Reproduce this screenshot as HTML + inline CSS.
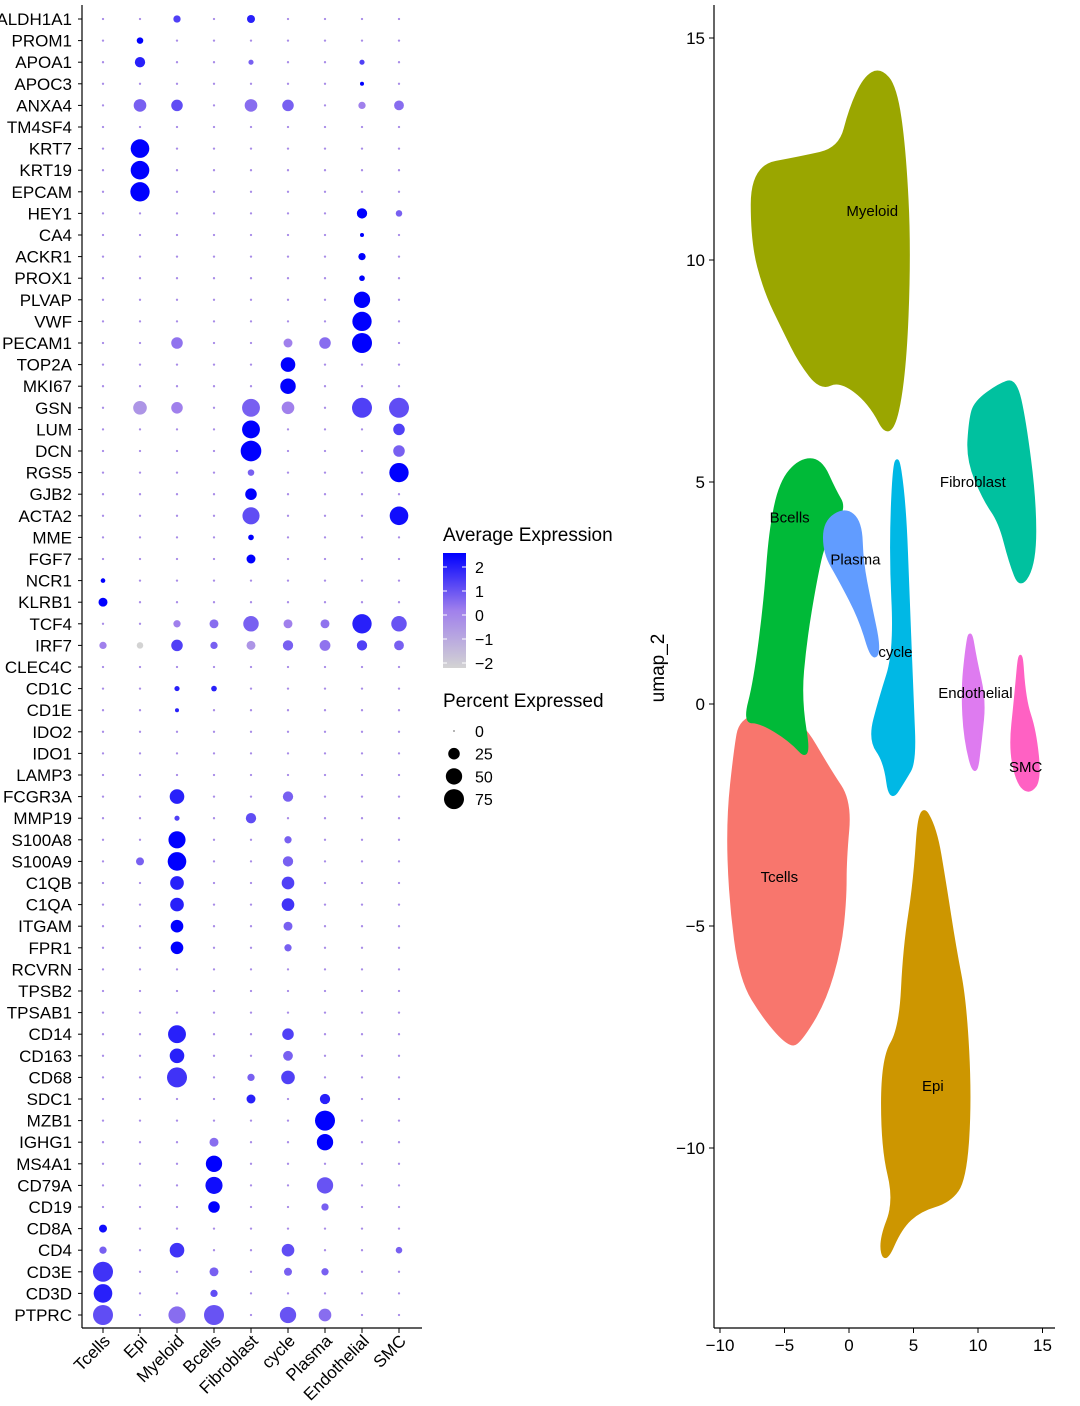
<!DOCTYPE html>
<html><head><meta charset="utf-8">
<style>
html,body{margin:0;padding:0;background:#fff;}
svg{display:block;font-family:"Liberation Sans",sans-serif;}
</style></head>
<body>
<svg id="chart" width="1080" height="1406" viewBox="0 0 1080 1406">
<g id="dot"></g>
<g id="leg"></g>
<g id="umap"></g>
</svg>
<script>
const genes=["ALDH1A1","PROM1","APOA1","APOC3","ANXA4","TM4SF4","KRT7","KRT19","EPCAM","HEY1","CA4","ACKR1","PROX1","PLVAP","VWF","PECAM1","TOP2A","MKI67","GSN","LUM","DCN","RGS5","GJB2","ACTA2","MME","FGF7","NCR1","KLRB1","TCF4","IRF7","CLEC4C","CD1C","CD1E","IDO2","IDO1","LAMP3","FCGR3A","MMP19","S100A8","S100A9","C1QB","C1QA","ITGAM","FPR1","RCVRN","TPSB2","TPSAB1","CD14","CD163","CD68","SDC1","MZB1","IGHG1","MS4A1","CD79A","CD19","CD8A","CD4","CD3E","CD3D","PTPRC"];
const cellTypes=["Tcells","Epi","Myeloid","Bcells","Fibroblast","cycle","Plasma","Endothelial","SMC"];
const dots=[
["ALDH1A1","Myeloid",10,1],["ALDH1A1","Fibroblast",12,1.5],
["PROM1","Epi",8,2],["APOA1","Epi",20,1.5],["APOA1","Fibroblast",5,0.5],["APOA1","Endothelial",5,1],
["APOC3","Endothelial",3,2],
["ANXA4","Epi",30,0.5],["ANXA4","Myeloid",25,0.8],["ANXA4","Fibroblast",30,0.3],["ANXA4","cycle",25,0.5],["ANXA4","Endothelial",10,0],["ANXA4","SMC",18,0.3],
["KRT7","Epi",65,2],["KRT19","Epi",65,2],["EPCAM","Epi",70,2],
["HEY1","Endothelial",20,2],["HEY1","SMC",8,0.5],["CA4","Endothelial",3,2],["ACKR1","Endothelial",10,2],["PROX1","Endothelial",6,2],
["PLVAP","Endothelial",50,2],["VWF","Endothelial",70,2],["PECAM1","Endothelial",75,2],["PECAM1","Myeloid",25,0.2],["PECAM1","cycle",15,0],["PECAM1","Plasma",25,0.3],
["TOP2A","cycle",40,2],["MKI67","cycle",45,2],
["GSN","Epi",35,-0.5],["GSN","Myeloid",25,0],["GSN","Fibroblast",60,0.5],["GSN","cycle",30,0],["GSN","Endothelial",75,1],["GSN","SMC",75,0.8],
["LUM","Fibroblast",60,2],["LUM","SMC",25,1],["DCN","Fibroblast",80,2],["DCN","SMC",25,0.5],
["RGS5","SMC",70,2],["RGS5","Fibroblast",8,0.5],["GJB2","Fibroblast",25,2],["ACTA2","Fibroblast",55,0.8],["ACTA2","SMC",65,1.8],
["MME","Fibroblast",6,2],["FGF7","Fibroblast",15,2],["NCR1","Tcells",4,2],["KLRB1","Tcells",15,2],
["TCF4","Fibroblast",45,0.5],["TCF4","Endothelial",70,1.5],["TCF4","SMC",45,0.7],["TCF4","Myeloid",10,0],["TCF4","Bcells",15,0.3],["TCF4","cycle",15,0],["TCF4","Plasma",15,0.2],
["IRF7","Tcells",10,0],["IRF7","Epi",8,-2],["IRF7","Myeloid",25,1],["IRF7","Bcells",10,0.5],["IRF7","Fibroblast",15,-0.5],["IRF7","cycle",20,0.5],["IRF7","Plasma",22,0.2],["IRF7","Endothelial",20,1],["IRF7","SMC",18,0.5],
["CD1C","Myeloid",5,1.5],["CD1C","Bcells",6,1.5],["CD1E","Myeloid",3,1.5],
["FCGR3A","Myeloid",40,1.5],["FCGR3A","cycle",20,0.5],["MMP19","Myeloid",5,1],["MMP19","Fibroblast",20,0.8],
["S100A8","Myeloid",55,2],["S100A8","cycle",10,0.5],["S100A9","Myeloid",65,2],["S100A9","Epi",12,0.5],["S100A9","cycle",20,0.5],
["C1QB","Myeloid",35,1.5],["C1QB","cycle",30,1],["C1QA","Myeloid",35,1.5],["C1QA","cycle",30,1.2],
["ITGAM","Myeloid",30,2],["ITGAM","cycle",15,0.5],["FPR1","Myeloid",30,2],["FPR1","cycle",10,0.5],
["CD14","Myeloid",60,1.5],["CD14","cycle",25,1],["CD163","Myeloid",40,1.5],["CD163","cycle",18,0.5],
["CD68","Myeloid",75,1.2],["CD68","cycle",35,1],["CD68","Fibroblast",10,0.5],
["SDC1","Plasma",20,1.5],["SDC1","Fibroblast",15,1.5],["MZB1","Plasma",75,2],["IGHG1","Plasma",50,2],["IGHG1","Bcells",15,0.3],
["MS4A1","Bcells",50,2],["CD79A","Bcells",55,1.8],["CD79A","Plasma",50,0.7],["CD19","Bcells",25,2],["CD19","Plasma",10,0.5],
["CD8A","Tcells",12,1.8],["CD4","Tcells",10,0.5],["CD4","Myeloid",40,1.2],["CD4","cycle",30,0.8],["CD4","SMC",8,0.5],
["CD3E","Tcells",75,1.2],["CD3E","Bcells",15,0.5],["CD3E","cycle",12,0.5],["CD3E","Plasma",10,0.5],
["CD3D","Tcells",65,1.5],["CD3D","Bcells",10,0.8],
["PTPRC","Tcells",75,0.8],["PTPRC","Myeloid",55,0.3],["PTPRC","Bcells",75,0.7],["PTPRC","cycle",50,0.7],["PTPRC","Plasma",30,0.3]];
const expTicks=[2,1,0,-1,-2];
const pctTicks=[0,25,50,75];

const umapXTicks=[-10,-5,0,5,10,15];
const umapYTicks=[15,10,5,0,-5,-10];
const clusterNames=["Myeloid","Tcells","Bcells","Plasma","cycle","Fibroblast","Endothelial","SMC","Epi"];
const clusterColors=["#9aa600","#f8766d","#00ba38","#619cff","#00b8e5","#00c19f","#de7bf0","#ff61c3","#cd9600"];
const clusterX=[
[-7.5,-3.8,-0.7,0.1,1.2,2.4,3.6,4.3,4.7,4.3,3.2,1.6,-0.7,-2.2,-3.8,-5.0,-6.5,-7.5],
[-8.4,-6.1,-3.8,-1.5,0.1,-0.3,-0.3,-0.7,-1.9,-3.8,-4.6,-6.5,-8.4,-9.2,-9.4,-8.8],
[-6.1,-5.3,-3.8,-2.2,-1.1,-0.3,-1.9,-2.6,-3.4,-3.8,-3.0,-4.6,-6.9,-8.1,-7.3,-6.5],
[-1.9,-0.3,0.9,1.0,1.6,2.4,1.8,0.9,-0.7,-1.9],
[3.6,4.3,4.6,4.9,5.1,4.3,3.2,2.8,1.6,2.4,3.6,3.2],
[9.8,11.7,12.9,13.6,14.4,14.4,13.3,12.5,11.7,10.5,9.2,9.4],
[9.4,9.8,10.5,10.2,9.8,9.0,8.8,9.1],
[13.3,13.6,14.4,14.8,14.0,13.1,12.5,12.9],
[5.5,6.7,7.4,8.2,9.0,9.4,9.0,7.8,5.5,4.0,2.8,2.4,3.6,2.6,2.6,4.0,4.3,5.1]];
const clusterY=[
[12.1,12.3,12.5,13.4,14.1,14.3,13.9,12.5,10.2,7.3,5.9,6.8,7.3,7.1,7.7,8.4,9.3,10.4],
[-0.36,-0.18,-0.36,-1.5,-2.2,-3.5,-4.4,-5.5,-6.7,-7.6,-7.7,-7.1,-6.2,-4.4,-2.6,-1.0],
[3.9,5.0,5.5,5.5,4.8,4.4,3.7,2.8,1.4,0.1,-1.3,-0.8,-0.4,-0.4,0.5,2.3],
[4.1,4.4,4.1,3.2,2.3,1.2,1.0,1.9,2.8,3.4],
[5.9,4.6,2.3,0.1,-1.3,-1.7,-2.2,-1.3,-0.8,0.1,1.2,3.5],
[6.8,7.2,7.3,6.4,4.6,3.2,2.6,3.2,4.1,4.6,5.5,6.4],
[1.7,1.0,0.1,-0.8,-1.7,-0.8,0.3,1.2],
[1.4,0.1,-0.6,-1.7,-2.0,-1.8,-1.0,0.1],
[-2.2,-2.8,-4.0,-5.5,-6.7,-8.9,-10.7,-11.2,-11.4,-11.8,-12.6,-12.1,-11.2,-10.0,-8.0,-7.3,-5.5,-4.0]];
const labelX=[1.8,-5.4,-4.6,0.5,3.6,9.6,9.8,13.7,6.5];
const labelY=[11.1,-3.9,4.2,3.26,1.17,5.0,0.25,-1.42,-8.6];

const NS="http://www.w3.org/2000/svg";
function mk(tag,attrs,parent,text){const e=document.createElementNS(NS,tag);for(const k in attrs)e.setAttribute(k,attrs[k]);if(text!==undefined)e.textContent=text;parent.appendChild(e);return e;}

const colX=i=>103+37*i;
const rowY=i=>19+21.6*i;
const rad=p=>Math.max(0.8,Math.sqrt(p/75)*10);
function col(v){const t=(Math.max(-2,Math.min(2,v))+2)/4;
 const a=[211,211,211],m=[160,128,236],b=[0,0,255];
 let c0,c1,u;if(t<0.5){c0=a;c1=m;u=t*2;}else{c0=m;c1=b;u=(t-0.5)*2;}
 return `rgb(${c0.map((c,i)=>Math.round(c+(c1[i]-c)*u)).join(",")})`;}
const dg=document.getElementById("dot");
mk("line",{x1:82,y1:5,x2:82,y2:1328,stroke:"#000","stroke-width":1.2},dg);
mk("line",{x1:82,y1:1328,x2:422,y2:1328,stroke:"#000","stroke-width":1.2},dg);
genes.forEach((g,i)=>{
 const t=mk("text",{x:72,y:rowY(i)+6,"text-anchor":"end","font-size":17,fill:"#000"},dg,g);
 
 
 mk("line",{x1:78,y1:rowY(i),x2:82,y2:rowY(i),stroke:"#000"},dg);
});
cellTypes.forEach((c,j)=>{
 mk("line",{x1:colX(j),y1:1328,x2:colX(j),y2:1333,stroke:"#000"},dg);
 const t=mk("text",{x:0,y:0,"text-anchor":"end","font-size":17,fill:"#000",transform:`translate(${colX(j)+8},${1342}) rotate(-45)`},dg,c);
 
 
});
const map={};dots.forEach(d=>{map[d[0]+"|"+d[1]]=d;});
genes.forEach((g,i)=>cellTypes.forEach((c,j)=>{
 const d=map[g+"|"+c];const p=d?d[2]:1,v=d?d[3]:-0.3;
 const e=mk("circle",{cx:colX(j),cy:rowY(i),r:rad(p),fill:col(v)},dg);
 
 
}));

const lg=document.getElementById("leg");
mk("text",{x:443,y:541,"font-size":19},lg,"Average Expression");
const defs=mk("defs",{},lg);
const gr=mk("linearGradient",{id:"eg",x1:0,y1:0,x2:0,y2:1},defs);
mk("stop",{offset:"0","stop-color":col(2.2)},gr);mk("stop",{offset:"0.5","stop-color":col(0)},gr);mk("stop",{offset:"1","stop-color":col(-2.2)},gr);
const bar=mk("rect",{x:443,y:553,width:23,height:115,fill:"url(#eg)"},lg);


expTicks.forEach(v=>{const y=615-24*v;
 mk("line",{x1:443,y1:y,x2:447,y2:y,stroke:"#fff"},lg);mk("line",{x1:462,y1:y,x2:466,y2:y,stroke:"#fff"},lg);
 mk("text",{x:475,y:y+6,"font-size":16},lg,v<0?"\u2212"+(-v):String(v));});
mk("text",{x:443,y:707,"font-size":19},lg,"Percent Expressed");
pctTicks.forEach((p,i)=>{const y=731+22.7*i;
 const c=mk("circle",{cx:454,cy:y,r:p===0?0.6:rad(p),fill:"#000"},lg);
 
 
 mk("text",{x:475,y:y+6,"font-size":16},lg,String(p));});

const ug=document.getElementById("umap");
const ux=v=>849+12.9*v, uy=v=>704-44.4*v;
mk("line",{x1:714,y1:5,x2:714,y2:1328,stroke:"#000","stroke-width":1.2},ug);
mk("line",{x1:714,y1:1328,x2:1055,y2:1328,stroke:"#000","stroke-width":1.2},ug);
umapXTicks.forEach(v=>{mk("line",{x1:ux(v),y1:1328,x2:ux(v),y2:1333,stroke:"#000"},ug);
 mk("text",{x:ux(v),y:1351,"text-anchor":"middle","font-size":17},ug,v<0?"\u2212"+(-v):String(v));});
umapYTicks.forEach(v=>{mk("line",{x1:709,y1:uy(v),x2:714,y2:uy(v),stroke:"#000"},ug);
 mk("text",{x:705,y:uy(v)+6,"text-anchor":"end","font-size":17},ug,v<0?"\u2212"+(-v):String(v));});
const yt=mk("text",{x:0,y:0,"text-anchor":"middle","font-size":19,transform:"translate(664,668) rotate(-90)"},ug,"umap_2");


clusterNames.forEach((n,k)=>{
 const xs=clusterX[k],ys=clusterY[k];
 const pts=xs.map((x,i)=>[ux(x),uy(ys[i])]);
 let d="";const L=pts.length;
 for(let i=0;i<L;i++){const p=pts[i],q=pts[(i+1)%L];const m=[(p[0]+q[0])/2,(p[1]+q[1])/2];
  if(i===0){const pr=pts[L-1];d+=`M${(pr[0]+p[0])/2},${(pr[1]+p[1])/2}`;}
  d+=` Q${p[0]},${p[1]} ${m[0]},${m[1]}`;}
 const e=mk("path",{d:d+"Z",fill:clusterColors[k],stroke:clusterColors[k],"stroke-width":3,"stroke-linejoin":"round"},ug);
 
 
});
clusterNames.forEach((n,k)=>{
 const t=mk("text",{x:ux(labelX[k]),y:uy(labelY[k])+5,"text-anchor":"middle","font-size":15,fill:"#000"},ug,n);
 
 
});
</script>
</body></html>
